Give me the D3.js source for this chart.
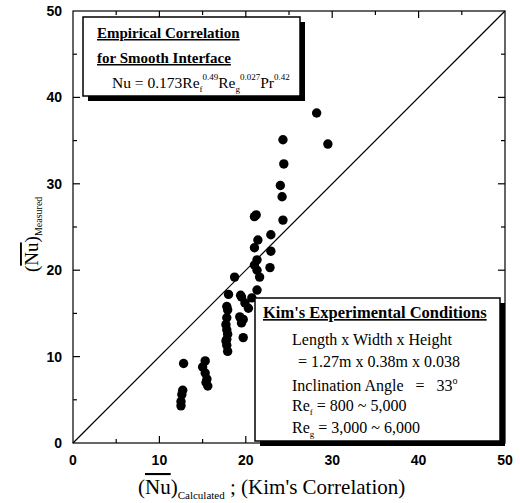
<!DOCTYPE html>
<html>
<head>
<meta charset="utf-8">
<script src="https://cdn.jsdelivr.net/npm/d3@7"></script>
<style>
  body { margin: 0; background: #fff; }
  text { white-space: pre; }
</style>
</head>
<body>
<script>
// Nu calculated (Kim's correlation) vs Nu measured
const nuCalculated = [
    12.5, 12.5, 12.6, 12.7, 12.8,
    15.3, 15.0, 15.3, 15.5, 15.6, 15.4,
    17.7, 17.8, 17.9, 17.8, 17.9, 17.8, 17.7, 17.8, 17.9, 17.8, 18.0,
    18.7, 19.4, 19.5, 19.3, 19.5, 19.7, 19.7, 19.9, 20.7, 20.3,
    21.0, 21.6, 21.3, 21.3, 21.0, 21.4, 21.0, 21.2, 21.3,
    22.9, 22.9, 22.8,
    24.2, 24.3, 24.0, 24.4, 24.3,
    28.2, 29.5
];
const nuMeasured = [
    4.3, 4.8, 5.6, 6.1, 9.2,
    9.5, 8.8, 8.1, 7.4, 6.6, 7.0,
    11.8, 11.3, 10.6, 12.0, 12.6, 13.1, 13.7, 14.5, 15.4, 15.8, 17.2,
    19.2, 17.1, 16.9, 14.6, 13.9, 14.3, 12.2, 16.2, 16.8, 15.6,
    20.6, 19.2, 17.7, 21.2, 22.6, 23.5, 26.2, 26.4, 20.0,
    24.1, 22.2, 20.3,
    28.5, 25.8, 29.8, 32.3, 35.1,
    38.2, 34.6
];
const majorTicks = [0, 10, 20, 30, 40, 50];
const minorTicks = [5, 15, 25, 35, 45];

const width = 520;
const height = 503;
const margin = { top: 11, right: 15, bottom: 60, left: 73 };
const serif = '"Liberation Serif", "DejaVu Serif", serif';
const sans = '"Liberation Sans", Arial, sans-serif';

const data = nuCalculated.map((c, i) => ({ calc: c, meas: nuMeasured[i] }));

const x = d3.scaleLinear()
    .domain([0, 50])
    .range([margin.left, width - margin.right]);

const y = d3.scaleLinear()
    .domain([0, 50])
    .range([height - margin.bottom, margin.top]);

const svg = d3.create('svg')
    .attr('width', width)
    .attr('height', height)
    .attr('font-family', sans);

// frame
svg.append('rect')
    .attr('x', x(0))
    .attr('y', y(50))
    .attr('width', x(50) - x(0))
    .attr('height', y(0) - y(50))
    .attr('fill', 'none')
    .attr('stroke', '#000')
    .attr('stroke-width', 1.2);

// inward ticks on all four sides
const tickG = svg.append('g').attr('stroke', '#000').attr('stroke-width', 1.2);
const addTicks = (vals, len) => {
    vals.forEach(v => {
        tickG.append('line').attr('x1', x(v)).attr('x2', x(v)).attr('y1', y(0)).attr('y2', y(0) - len);
        tickG.append('line').attr('x1', x(v)).attr('x2', x(v)).attr('y1', y(50)).attr('y2', y(50) + len);
        tickG.append('line').attr('y1', y(v)).attr('y2', y(v)).attr('x1', x(0)).attr('x2', x(0) + len);
        tickG.append('line').attr('y1', y(v)).attr('y2', y(v)).attr('x1', x(50)).attr('x2', x(50) - len);
    });
};
addTicks(majorTicks.slice(1, -1), 7);
addTicks(minorTicks, 4);

// tick labels
svg.append('g')
    .attr('font-size', 14)
    .attr('font-weight', 'bold')
    .attr('text-anchor', 'middle')
    .selectAll('text')
    .data(majorTicks)
    .join('text')
    .attr('x', d => x(d))
    .attr('y', y(0) + 22)
    .text(d => d);

svg.append('g')
    .attr('font-size', 14)
    .attr('font-weight', 'bold')
    .attr('text-anchor', 'end')
    .selectAll('text')
    .data(majorTicks)
    .join('text')
    .attr('x', x(0) - 11)
    .attr('y', d => y(d) + 5)
    .text(d => d);

// y = x line
svg.append('line')
    .attr('x1', x(0)).attr('y1', y(0))
    .attr('x2', x(50)).attr('y2', y(50))
    .attr('stroke', '#000')
    .attr('stroke-width', 1.2);

// points
svg.append('g')
    .selectAll('circle')
    .data(data)
    .join('circle')
    .attr('cx', d => x(d.calc))
    .attr('cy', d => y(d.meas))
    .attr('r', 4.7)
    .attr('fill', '#000');

// boxes with heavy shadow
const drawBox = (x0, y0, w, h) => {
    svg.append('rect').attr('x', x0 + 5).attr('y', y0 + 5).attr('width', w).attr('height', h).attr('fill', '#000');
    svg.append('rect').attr('x', x0).attr('y', y0).attr('width', w).attr('height', h)
        .attr('fill', '#fff').attr('stroke', '#000').attr('stroke-width', 1.5);
};

drawBox(83, 17, 217, 79);
drawBox(255, 298, 245, 143);

const boxText = (tx, ty, size) => svg.append('text')
    .attr('x', tx).attr('y', ty)
    .attr('font-family', serif)
    .attr('font-size', size);

// correlation box
boxText(97, 38, 15).attr('font-weight', 'bold').attr('text-decoration', 'underline')
    .text('Empirical Correlation');
boxText(97, 63, 15).attr('font-weight', 'bold').attr('text-decoration', 'underline')
    .text('for Smooth Interface');

const nu = boxText(112, 88, 15.5);
nu.append('tspan').text('Nu = 0.173Re');
nu.append('tspan').attr('font-size', 9).attr('dy', 4).text('f');
nu.append('tspan').attr('font-size', 9).attr('dy', -12).text('0.49');
nu.append('tspan').attr('dy', 8).text('Re');
nu.append('tspan').attr('font-size', 9).attr('dy', 4).text('g');
nu.append('tspan').attr('font-size', 9).attr('dy', -12).text('0.027');
nu.append('tspan').attr('dy', 8).text('Pr');
nu.append('tspan').attr('font-size', 9).attr('dy', -8).text('0.42');

// conditions box
boxText(263, 318, 16.5).attr('font-weight', 'bold').attr('text-decoration', 'underline')
    .text("Kim's Experimental Conditions");
boxText(292, 345, 16).text('Length x Width x Height');
boxText(298, 367, 16).text('= 1.27m x 0.38m x 0.038');
const incl = boxText(292, 391, 16);
incl.append('tspan').text('Inclination Angle   =   33');
incl.append('tspan').attr('font-size', 10).attr('dy', -7).text('o');

const ref = boxText(292, 411, 16);
ref.append('tspan').text('Re');
ref.append('tspan').attr('font-size', 9).attr('dy', 4).text('f');
ref.append('tspan').attr('dy', -4).text(' = 800 ~ 5,000');

const reg = boxText(292, 433, 16);
reg.append('tspan').text('Re');
reg.append('tspan').attr('font-size', 9).attr('dy', 4).text('g');
reg.append('tspan').attr('dy', -4).text(' = 3,000 ~ 6,000');

// axis titles
const xt = svg.append('text')
    .attr('x', 138)
    .attr('y', 494)
    .attr('font-family', serif)
    .attr('font-size', 21);
xt.append('tspan').text('(');
xt.append('tspan').attr('text-decoration', 'overline').text('Nu');
xt.append('tspan').text(')');
xt.append('tspan').attr('font-size', 11).attr('dy', 5).text('Calculated');
xt.append('tspan').attr('dy', -5).text(' ; (Kim\'s Correlation)');

const yt = svg.append('text')
    .attr('transform', 'translate(38,272) rotate(-90)')
    .attr('font-family', serif)
    .attr('font-size', 19);
yt.append('tspan').text('(');
yt.append('tspan').attr('text-decoration', 'overline').text('Nu');
yt.append('tspan').text(')');
yt.append('tspan').attr('font-size', 10).attr('dy', 4).text('Measured');

document.querySelector('body').appendChild(svg.node());
</script>
</body>
</html>
